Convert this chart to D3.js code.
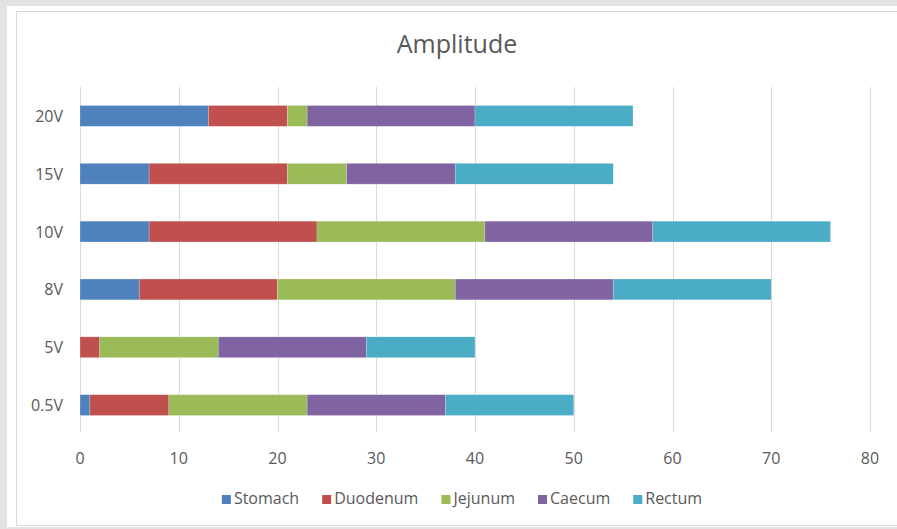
<!DOCTYPE html>
<html>
<head>
<meta charset="utf-8">
<script src="https://cdn.jsdelivr.net/npm/d3@7"></script>
<style>
  html, body { margin: 0; padding: 0; background: #e3e3e3; }
  svg { display: block; }
  text { font-family: "Open Sans", sans-serif; fill: #595959; }
</style>
</head>
<body>
<svg id="chart" width="897" height="529"></svg>
<script>
const categories = ["0.5V", "5V", "8V", "10V", "15V", "20V"];
const seriesNames = ["Stomach", "Duodenum", "Jejunum", "Caecum", "Rectum"];
const stomach  = [1, 0, 6, 7, 7, 13];
const duodenum = [8, 2, 14, 17, 14, 8];
const jejunum  = [14, 12, 18, 17, 6, 2];
const caecum   = [14, 15, 16, 17, 11, 17];
const rectum   = [13, 11, 16, 18, 16, 16];
const colors = ["#4f81bd", "#c0504d", "#9bbb59", "#8064a2", "#4bacc6"];
const xTicks = [0, 10, 20, 30, 40, 50, 60, 70, 80];
const title = "Amplitude";

const seriesValues = [stomach, duodenum, jejunum, caecum, rectum];
const rows = categories.map((c, i) => {
  const r = { cat: c };
  seriesNames.forEach((s, j) => r[s] = seriesValues[j][i]);
  return r;
});

const svg = d3.select("#chart");

// panel and frame
svg.append("rect").attr("x", 7).attr("y", 6).attr("width", 890).attr("height", 521).attr("fill", "#ffffff");
svg.append("rect").attr("x", 16.5).attr("y", 11.5).attr("width", 890).attr("height", 514)
  .attr("fill", "none").attr("stroke", "#d9d9d9").attr("stroke-width", 1);

const x = d3.scaleLinear().domain([0, 80]).range([80, 870]);
const y = d3.scaleBand().domain(categories.slice().reverse()).range([87, 434]).paddingInner(0.64).paddingOuter(0.32);

// gridlines
svg.append("g").selectAll("line").data(xTicks).join("line")
  .attr("x1", d => Math.round(x(d)) + 0.5).attr("x2", d => Math.round(x(d)) + 0.5)
  .attr("y1", 87).attr("y2", 432)
  .attr("stroke", "#d9d9d9").attr("stroke-width", 1);

// x tick labels
svg.append("g").selectAll("text").data(xTicks).join("text")
  .attr("x", d => x(d)).attr("y", 464)
  .attr("text-anchor", "middle").attr("font-size", 16)
  .text(d => d);

// y labels
svg.append("g").selectAll("text").data(categories).join("text")
  .attr("x", 63).attr("y", d => y(d) + y.bandwidth() / 2 + 6)
  .attr("text-anchor", "end").attr("font-size", 16)
  .text(d => d);

// stacked bars
const stacked = d3.stack().keys(seriesNames)(rows);
svg.append("g").selectAll("g").data(stacked).join("g")
  .attr("fill", (d, i) => colors[i])
  .selectAll("rect").data(d => d).join("rect")
  .attr("x", d => x(d[0]))
  .attr("width", d => x(d[1]) - x(d[0]))
  .attr("y", d => y(d.data.cat))
  .attr("height", y.bandwidth())
  .attr("stroke", "#ffffff").attr("stroke-opacity", 0.35).attr("stroke-width", 0.6);

// title
svg.append("text").attr("x", 457).attr("y", 53)
  .attr("text-anchor", "middle").attr("font-size", 25)
  .text(title);

// legend
const lg = svg.append("g");
let cx = 0;
const items = [];
seriesNames.forEach((s, i) => {
  const g = lg.append("g");
  g.append("rect").attr("x", 0).attr("y", -9).attr("width", 9).attr("height", 9).attr("fill", colors[i]);
  const t = g.append("text").attr("x", 12).attr("y", 0).attr("font-size", 16).text(s);
  const w = 12 + t.node().getComputedTextLength();
  g.attr("transform", `translate(${cx},0)`);
  cx += w + 23;
});
const totalW = cx - 23;
lg.attr("transform", `translate(${462 - totalW / 2},504)`);
</script>
</body>
</html>
